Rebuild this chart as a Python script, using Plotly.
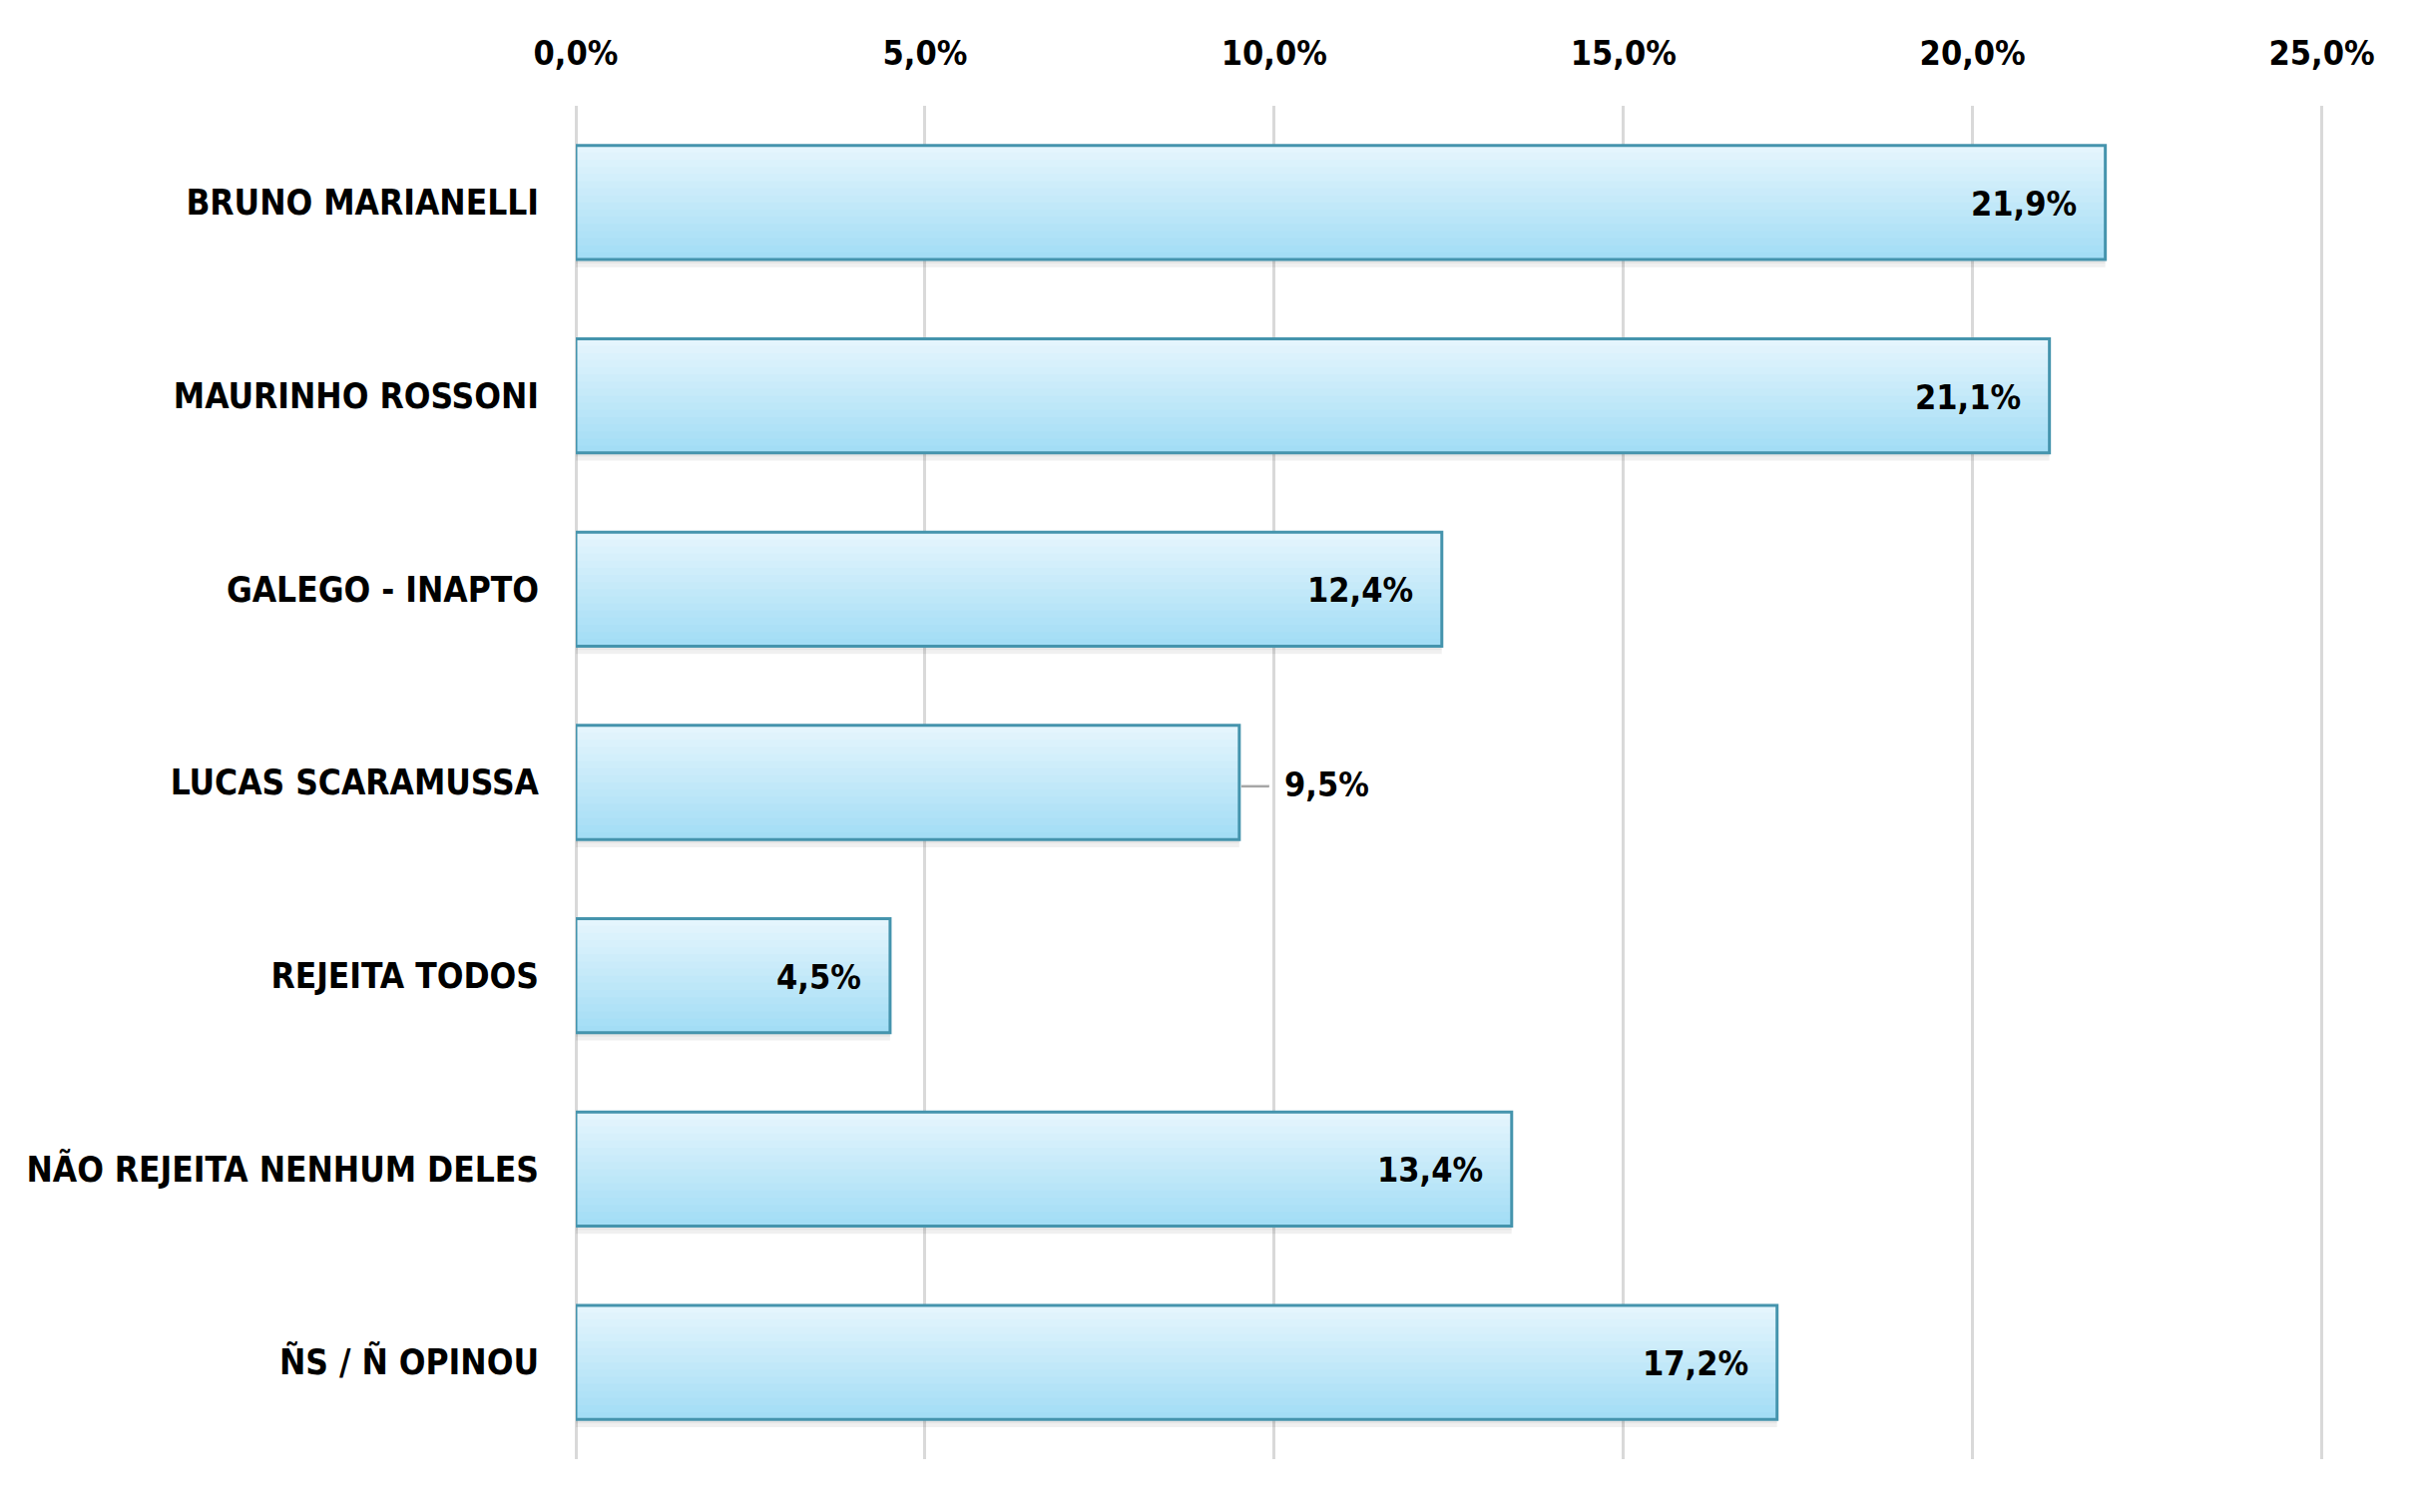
import plotly.graph_objects as go

categories = ["BRUNO MARIANELLI", "MAURINHO ROSSONI", "GALEGO - INAPTO", "LUCAS SCARAMUSSA",
              "REJEITA TODOS", "NÃO REJEITA NENHUM DELES", "ÑS / Ñ OPINOU"]
values = [21.9, 21.1, 12.4, 9.5, 4.5, 13.4, 17.2]
labels = ["21,9%", "21,1%", "12,4%", "9,5%", "4,5%", "13,4%", "17,2%"]
outside = [False, False, False, True, False, False, False]
x_ticks = [0, 5, 10, 15, 20, 25]
x_tick_labels = ["0,0%", "5,0%", "10,0%", "15,0%", "20,0%", "25,0%"]

FONT = "'Liberation Sans Narrow', 'DejaVu Sans Condensed', 'Open Sans', sans-serif"
FS = 34
W = 0.59
N = 16
top_rgb = (228, 245, 253)
bot_rgb = (163, 221, 245)

fig = go.Figure()

# soft shadow under each bar
for k, (off, a) in enumerate([(0.0, 0.10), (0.02, 0.06)]):
    fig.add_trace(go.Bar(y=categories, x=values, orientation="h", width=0.02, offset=W / 2 + off,
                         marker=dict(color="rgba(0,0,0,%.2f)" % a, line=dict(width=0)),
                         hoverinfo="skip", showlegend=False))

# vertical gradient built from overlapping strips
for i in range(N):
    t = i / (N - 1)
    c = tuple(round(top_rgb[k] + (bot_rgb[k] - top_rgb[k]) * t) for k in range(3))
    fig.add_trace(go.Bar(y=categories, x=values, orientation="h",
                         width=W - i * W / N, offset=-W / 2 + i * W / N,
                         marker=dict(color="rgb(%d,%d,%d)" % c, line=dict(width=0)),
                         hoverinfo="skip", showlegend=False))

# outline
fig.add_trace(go.Bar(y=categories, x=values, orientation="h", width=W, offset=-W / 2,
                     marker=dict(color="rgba(0,0,0,0)", line=dict(color="#4594AD", width=3)),
                     showlegend=False))

annotations = []
shapes = []
for i, (c, v, lab, out) in enumerate(zip(categories, values, labels, outside)):
    if out:
        annotations.append(dict(x=v, y=c, xref="x", yref="y", text=lab, showarrow=False,
                                xanchor="left", xshift=43, yshift=-2,
                                font=dict(family=FONT, size=FS, color="#000000", weight="bold")))
        shapes.append(dict(type="line", xref="x", yref="y", xsizemode="pixel", xanchor=v,
                           x0=2, x1=30, y0=i + 0.02, y1=i + 0.02,
                           line=dict(color="#A6A6A6", width=2.5)))
    else:
        annotations.append(dict(x=v, y=c, xref="x", yref="y", text=lab, showarrow=False,
                                xanchor="right", xshift=-27, yshift=-1,
                                font=dict(family=FONT, size=FS, color="#000000", weight="bold")))

fig.update_layout(
    width=2415, height=1500,
    margin=dict(l=569, r=95, t=98, b=46),
    paper_bgcolor="white", plot_bgcolor="white",
    barmode="overlay",
    separators=",.",
    annotations=annotations,
    shapes=shapes,
    xaxis=dict(side="top", range=[0, 25.02], tickvals=x_ticks, ticktext=x_tick_labels,
               showgrid=True, gridcolor="#D9D9D9", gridwidth=2.5,
               zeroline=True, zerolinecolor="#D9D9D9", zerolinewidth=2.5,
               showline=False, ticks="", ticklabelstandoff=33,
               tickfont=dict(family=FONT, size=FS, color="#000000", weight="bold")),
    yaxis=dict(autorange="reversed", showgrid=False, zeroline=False, showline=False,
               ticks="", ticklabelstandoff=36,
               tickfont=dict(family=FONT, size=35, color="#000000", weight="bold")),
)

fig.write_html("out.html")
